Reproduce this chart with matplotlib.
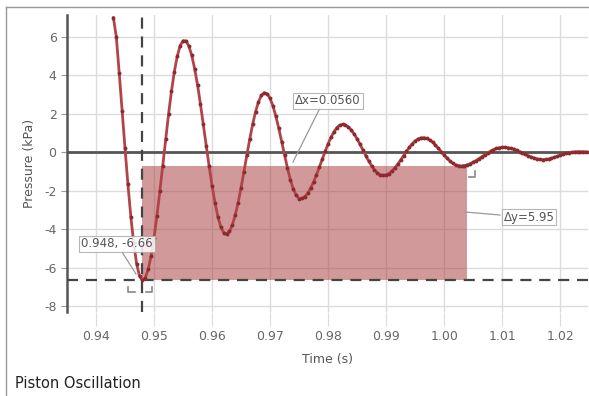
import numpy as np
import matplotlib.pyplot as plt
from matplotlib.patches import Rectangle
from matplotlib.lines import Line2D

plt.rcParams['font.family'] = ['DejaVu Sans']
plt.rcParams['axes.unicode_minus'] = False

t_start = 0.9430
t_step = 0.0005
pressure = [
    7.00, 6.00, 4.13, 2.17, 0.21, -1.66, -3.34, -4.73, -5.79, -6.44,
    -6.66, -6.51, -6.08, -5.37, -4.43, -3.30, -2.03, -0.69, 0.67, 1.97,
    3.17, 4.19, 4.99, 5.54, 5.80, 5.79, 5.53, 5.04, 4.35, 3.50,
    2.51, 1.45, 0.35, -0.73, -1.73, -2.61, -3.34, -3.87, -4.17, -4.25,
    -4.11, -3.77, -3.26, -2.61, -1.84, -1.01, -0.15, 0.69, 1.46, 2.11,
    2.62, 2.96, 3.10, 3.04, 2.81, 2.41, 1.88, 1.25, 0.56, -0.15,
    -0.82, -1.43, -1.90, -2.23, -2.40, -2.39, -2.30, -2.12, -1.86, -1.54,
    -1.17, -0.77, -0.36, 0.05, 0.44, 0.78, 1.06, 1.28, 1.41, 1.45,
    1.42, 1.32, 1.16, 0.95, 0.70, 0.42, 0.12, -0.17, -0.45, -0.70,
    -0.91, -1.07, -1.17, -1.20, -1.17, -1.10, -0.97, -0.81, -0.62, -0.40,
    -0.17, 0.05, 0.26, 0.44, 0.59, 0.69, 0.75, 0.76, 0.72, 0.64,
    0.53, 0.38, 0.22, 0.04, -0.13, -0.30, -0.45, -0.57, -0.66, -0.70,
    -0.71, -0.69, -0.65, -0.59, -0.51, -0.43, -0.33, -0.23, -0.12, -0.03,
    0.06, 0.14, 0.20, 0.24, 0.26, 0.26, 0.24, 0.21, 0.16, 0.10,
    0.03, -0.04, -0.11, -0.18, -0.24, -0.30, -0.34, -0.37, -0.38, -0.37,
    -0.35, -0.31, -0.26, -0.21, -0.15, -0.10, -0.06, -0.02, 0.00, 0.02,
    0.03, 0.03, 0.03, 0.02, 0.02,
]
time = t_start + t_step * np.arange(len(pressure))

# measurement cursors
cursor1 = (0.948, -6.66)
cursor2 = (1.004, -0.71)

x_ticks = [0.94, 0.95, 0.96, 0.97, 0.98, 0.99, 1.00, 1.01, 1.02]
y_ticks = [-8, -6, -4, -2, 0, 2, 4, 6]

W, H = 589, 396
fig = plt.figure(figsize=(W / 100, H / 100), dpi=100)
ax = fig.add_axes([67 / W, 1 - 312 / H, 521 / W, 297 / H])
ax.set_xlim(0.935, 1.0248)
ax.set_ylim(-8.3, 7.14)


def px(x, y):
    # pixel position (from top-left) -> figure fraction
    return x / W, 1 - y / H


grid_c = '#dcdcdc'
ax.set_xticks(x_ticks)
ax.set_yticks(y_ticks)
ax.set_xticklabels([f"{v:.2f}" for v in x_ticks])
ax.grid(True, color=grid_c, lw=1)
ax.set_axisbelow(True)
ax.tick_params(axis='x', length=10, color=grid_c, labelsize=9, labelcolor='#666', pad=3)
ax.tick_params(axis='y', length=4, color='#999', labelsize=9, labelcolor='#666')
for s in ['top', 'right', 'bottom']:
    ax.spines[s].set_visible(False)
ax.spines['left'].set_color('#555')
ax.spines['left'].set_linewidth(1.8)

ax.set_xlabel('Time (s)', fontsize=9, color='#555', labelpad=7)
ax.set_ylabel('Pressure (kPa)', fontsize=9, color='#555', labelpad=6)

# shaded measurement box
x1, y1 = cursor1
x2, y2 = cursor2
ax.add_patch(Rectangle((x1, y1), x2 - x1, y2 - y1, facecolor='#a83c3c',
                       alpha=0.52, edgecolor='none', zorder=2))

ax.axhline(0, color='#555', lw=2, zorder=3)
ax.axhline(y1, color='#444', lw=1.6, ls=(0, (5, 3.5)), zorder=3)
ax.axvline(x1, color='#444', lw=1.6, ls=(0, (5, 3.5)), zorder=3)

ax.plot(time, pressure, color='#b04448', lw=2.0, marker='o', ms=2.8,
        mfc='#8c2a30', mec='none', zorder=4)

# cursor brackets
ln_kw = dict(color='#888', lw=1.2, transform=fig.transFigure)
for seg in [[(128, 287), (128, 292), (135, 292)],
            [(146, 292), (152, 292), (152, 287)],
            [(469, 177), (475, 177), (475, 171)]]:
    xs, ys = zip(*[px(*p) for p in seg])
    fig.add_artist(Line2D(xs, ys, **ln_kw))

# leader lines
lead_kw = dict(color='#999', lw=0.9, transform=fig.transFigure)
for a, b in [((122, 252), (136, 274)), ((320, 108), (293, 162)), ((465, 212), (500, 215))]:
    fig.add_artist(Line2D([px(*a)[0], px(*b)[0]], [px(*a)[1], px(*b)[1]], **lead_kw))

box = dict(boxstyle='square,pad=0.15', facecolor='white', edgecolor='#aaa', lw=0.8, alpha=0.85)
fig.text(*px(117, 244), f"{x1:.3f}, {y1:.2f}", fontsize=8.5, color='#555',
         ha='center', va='center', bbox=box, zorder=6)
fig.text(*px(328, 101), f"\u0394x={x2 - x1:.4f}", fontsize=8.5, color='#555',
         ha='center', va='center', bbox=box, zorder=6)
fig.text(*px(529, 217), f"\u0394y={y2 - y1:.2f}", fontsize=8.5, color='#555',
         ha='center', va='center', bbox=box, zorder=6)

fig.text(*px(15, 384), 'Piston Oscillation', fontsize=10.5, color='#222',
         ha='left', va='center')

# outer frame: only top and left edges fall inside the image
frame_kw = dict(color='#999', lw=1, transform=fig.transFigure)
fig.add_artist(Line2D([6 / W, 1], [1 - 7 / H, 1 - 7 / H], **frame_kw))
fig.add_artist(Line2D([6 / W, 6 / W], [0, 1 - 7 / H], **frame_kw))

fig.savefig('out.png', dpi=100)
